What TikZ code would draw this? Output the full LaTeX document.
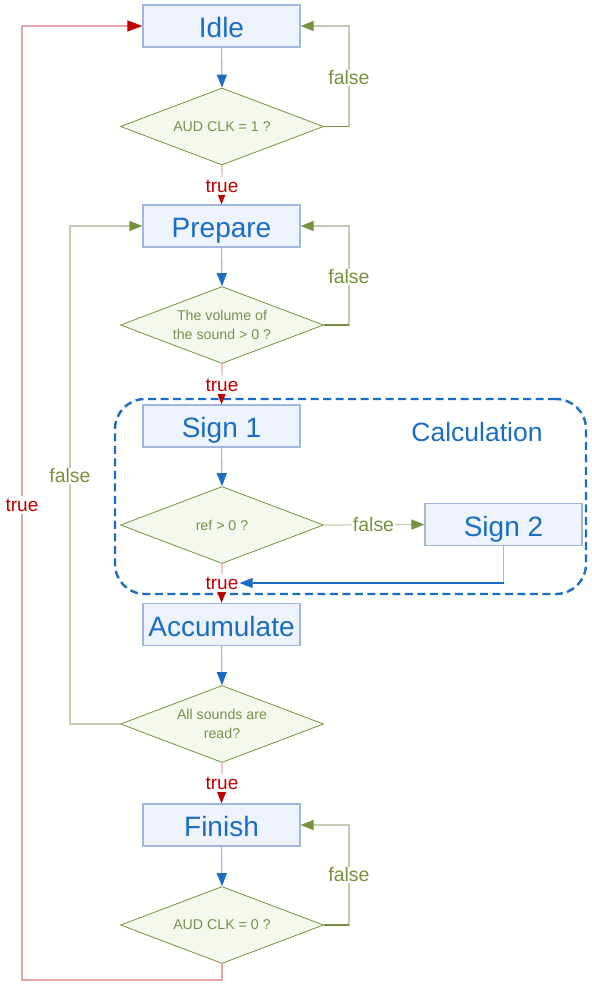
\documentclass[tikz,border=0pt]{standalone}
\usepackage{fontspec}
\setmainfont{Liberation Sans}
\usetikzlibrary{shapes.geometric,arrows.meta}
\definecolor{boxfill}{RGB}{238,242,251}
\definecolor{boxdraw}{RGB}{160,182,222}
\definecolor{blueT}{RGB}{25,110,195}
\definecolor{lblue}{RGB}{160,185,225}
\definecolor{dfill}{RGB}{245,248,238}
\definecolor{olive}{RGB}{118,146,60}
\definecolor{dtext}{RGB}{120,145,75}
\definecolor{lgreen}{RGB}{196,204,180}
\definecolor{redT}{RGB}{192,0,0}
\definecolor{pink}{RGB}{226,165,165}
\tikzset{
  stepbox/.style={draw=boxdraw,fill=boxfill,line width=1.3pt,minimum width=157pt,minimum height=42pt,inner sep=0pt,text height=23.5pt,text depth=0pt,text=blueT,font=\fontsize{28}{30}\selectfont},
  decision/.style={shape=diamond,draw=olive,fill=dfill,line width=0.8pt,minimum width=203pt,minimum height=77pt,aspect=2.636,inner sep=0pt,text=dtext,align=center,font=\fontsize{14.2}{19}\selectfont},
  calcbox/.style={draw=blueT,line width=2.4pt,dash pattern=on 8pt off 4.5pt,rounded corners=30pt,minimum width=471pt,minimum height=195pt,inner sep=0pt},
  bluearrow/.style={draw=lblue,line width=1.2pt,-{Triangle[length=13pt,width=10pt,color=blueT]}},
  falsearrow/.style={draw=lgreen,line width=1.2pt,-{Triangle[length=13pt,width=10pt,color=olive]}},
  truearrow/.style={draw=pink,line width=1.2pt,-{Triangle[length=13pt,width=10pt,color=redT]}},
  falselbl/.style={fill=white,text=olive,inner sep=1pt,font=\fontsize{19.5}{22}\selectfont},
  truelbl/.style={fill=white,text=redT,inner xsep=1pt,inner ysep=3pt,font=\fontsize{19}{22}\selectfont},
}
\begin{document}
\begin{tikzpicture}[x=1pt,y=-1pt]
\useasboundingbox[fill=white] (0,0) rectangle (592,986);
% calculation group
\node[calcbox] (calc) at (350.5,496.5) {};
\node[text=blueT,font=\fontsize{26.5}{30}\selectfont] (calclbl) at (477,432) {Calculation};
% boxes
\node[stepbox] (idle) at (221.5,26) {Idle};
\node[stepbox] (prep) at (221.5,226) {Prepare};
\node[stepbox] (sign1) at (221.5,426) {Sign 1};
\node[stepbox] (sign2) at (503.5,524.5) {Sign 2};
\node[stepbox] (acc) at (221.5,624.5) {Accumulate};
\node[stepbox] (fin) at (221.5,825) {Finish};
% decisions
\node[decision] (d1) at (222,126.5) {AUD CLK = 1 ?};
\node[decision] (d2) at (222,325) {The volume of\\the sound > 0 ?};
\node[decision] (d3) at (222,525) {ref > 0 ?};
\node[decision] (d4) at (222,724) {All sounds are\\read?};
\node[decision] (d5) at (222,925) {AUD CLK = 0 ?};
% corner coordinates
\coordinate (c1) at (349,126.5);
\coordinate (c2) at (349,325);
\coordinate (c4) at (70,724);
\coordinate (c5) at (349,925);
\coordinate (c6a) at (222,980);
\coordinate (c6b) at (22,980);
% box -> decision
\draw[bluearrow] (idle.south) -- (d1.north);
\draw[bluearrow] (prep.south) -- (d2.north);
\draw[bluearrow] (sign1.south) -- (d3.north);
\draw[bluearrow] (acc.south) -- (d4.north);
\draw[bluearrow] (fin.south) -- (d5.north);
% false loops on the right
\draw[falsearrow] (d1.east) -- (c1) |- (idle.east);
\draw[olive,line width=1.2pt] (d1.east) -- (c1);
\node[falselbl] (f1) at (349,78) {false};
\draw[falsearrow] (d2.east) -- (c2) |- (prep.east);
\draw[olive,line width=1.2pt] (d2.east) -- (c2);
\node[falselbl] (f2) at (349,277) {false};
\draw[falsearrow] (d5.east) -- (c5) |- (fin.east);
\draw[olive,line width=1.2pt] (d5.east) -- (c5);
\node[falselbl] (f5) at (349,875) {false};
% ref > 0 false
\draw[falsearrow] (d3.east) -- (sign2.west);
\node[falselbl] (f3) at (373.5,525) {false};
% all sounds false loop
\draw[falsearrow] (d4.west) -- (c4) |- (prep.west);
\node[falselbl] (f4) at (70,476) {false};
% true arrows
\draw[truearrow] (d1.south) -- (prep.north);
\node[truelbl] (t1) at (222,186) {true};
\draw[truearrow] (d2.south) -- (sign1.north);
\node[truelbl] (t2) at (222,385) {true};
\draw[truearrow] (d3.south) -- (acc.north);
\node[truelbl] (t3) at (222,583) {true};
\draw[truearrow] (d4.south) -- (fin.north);
\node[truelbl] (t4) at (222,783) {true};
% sign 2 return
\coordinate (c3) at (503.5,583);
\draw[bluearrow] (sign2.south) -- (c3) -- (t3.east);
\draw[blueT,line width=1.2pt] (c3) -- ([xshift=13pt]t3.east);
% finish true loop
\draw[truearrow,-{Triangle[length=15pt,width=11pt,color=redT]}] (d5.south) -- (c6a) -- (c6b) |- (idle.west);
\node[truelbl] (t5) at (22,505) {true};
\end{tikzpicture}
\end{document}
